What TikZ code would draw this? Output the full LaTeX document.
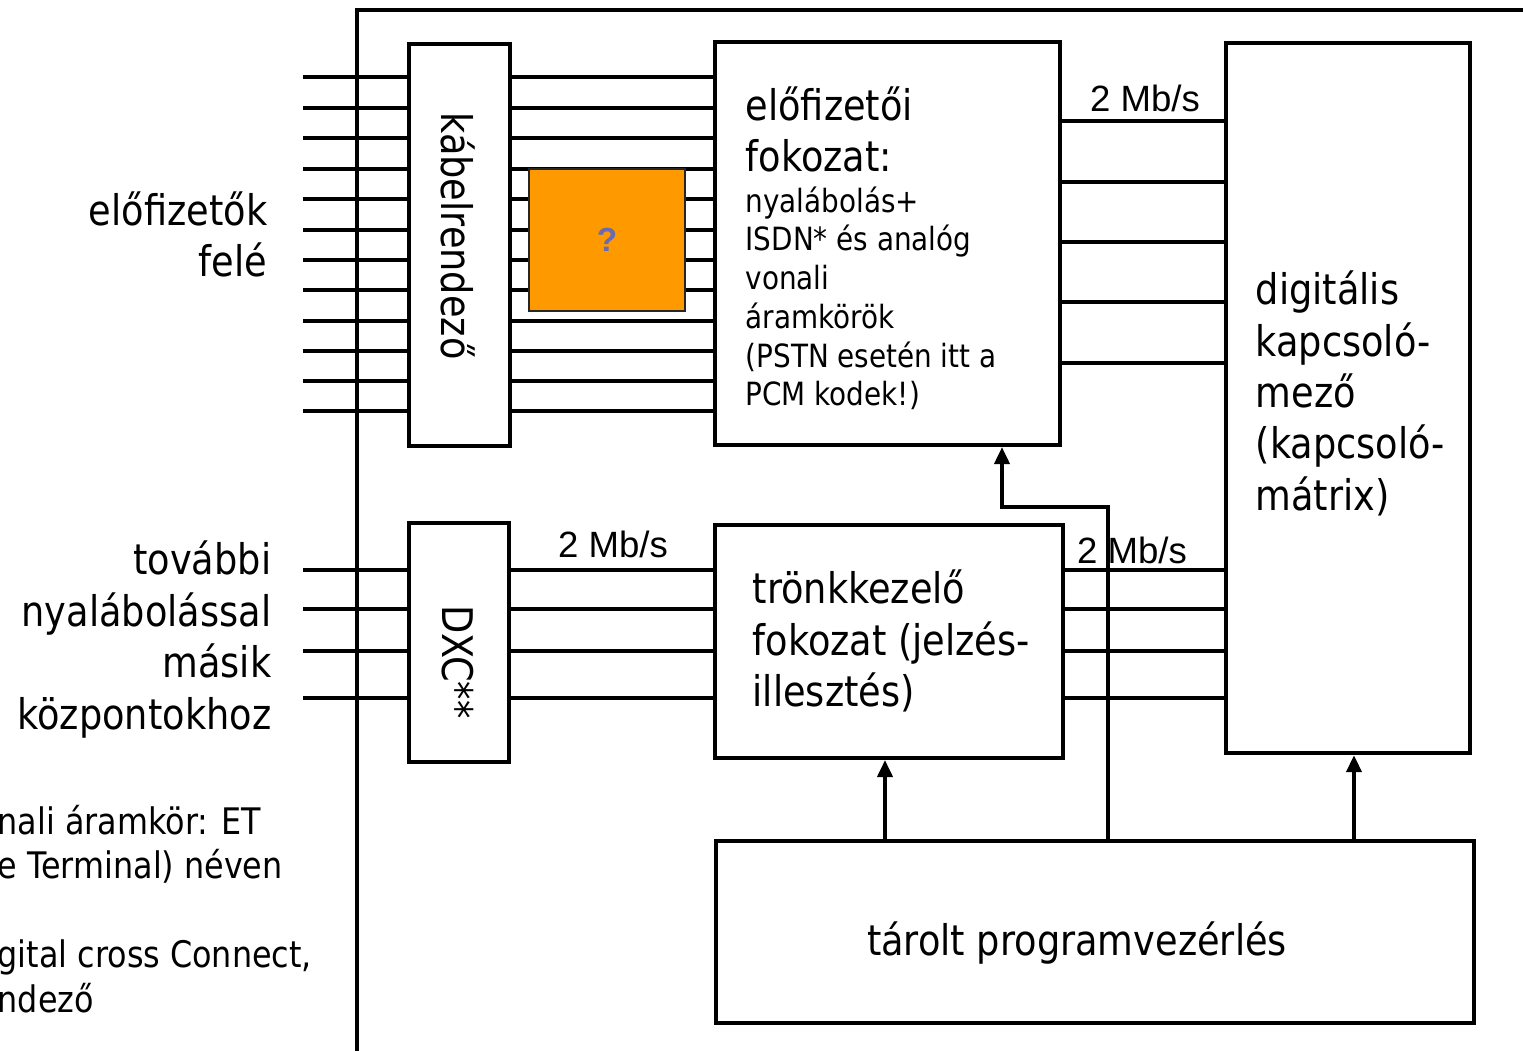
\documentclass[tikz,border=0pt]{standalone}
\usepackage{fontspec}
\setmainfont{DejaVu Sans}[FakeStretch=0.87]
\newfontfamily\arialfont{Liberation Sans}
\usepackage{tikz}
\usetikzlibrary{positioning,arrows.meta}
\definecolor{KozpOrange}{HTML}{FF9900}
\definecolor{KozpSlate}{HTML}{6A6AAE}

\begin{document}
\begin{tikzpicture}[x=0.01cm,y=-0.01cm,
    blokk/.style={draw,line width=1.1pt,inner sep=0pt},
    wire/.style={line width=1.1pt},
    arr/.style={line width=1.1pt,-{Triangle[length=0.17cm,width=0.15cm]}},
    nagy/.style={font=\fontsize{12}{14.6}\selectfont,inner sep=0pt},
    kicsi/.style={font=\fontsize{9.1}{11}\selectfont,inner sep=0pt},
    megj/.style={font=\fontsize{10.4}{12.6}\selectfont,inner sep=0pt},
    rate/.style={font=\arialfont\fontsize{10.4}{12}\selectfont,inner sep=0pt}]
    \useasboundingbox (0,0) rectangle (1523,1051);
    % keret
    \draw[wire] (1530,10) -- (357,10) -- (357,1060);
    % blokkok
    \node[blokk,minimum width=1.01cm,minimum height=4.02cm] (kab) at (459.5,245) {};
    \node[blokk,minimum width=3.45cm,minimum height=4.03cm] (elo) at (887.5,243.5) {};
    \node[blokk,minimum width=2.44cm,minimum height=7.10cm] (dig) at (1348,398) {};
    \node[blokk,minimum width=1.00cm,minimum height=2.39cm] (dxc) at (459,642.5) {};
    \node[blokk,minimum width=3.48cm,minimum height=2.33cm] (tronk) at (889,641.5) {};
    \node[blokk,minimum width=7.58cm,minimum height=1.82cm] (tar) at (1095,932) {};
    % vonalak
    \foreach \y in {77,108,138,169,199,230,260,290,321,351,381,411} {
      \draw[wire] (kab.west |- 0,\y) -- ++(-104,0);
      \draw[wire] (kab.east |- 0,\y) -- (elo.west |- 0,\y);
    }
    \foreach \y in {121,182,242,302,363}
      \draw[wire] (elo.east |- 0,\y) -- (dig.west |- 0,\y);
    \foreach \y in {570,609,651,698} {
      \draw[wire] (dxc.west |- 0,\y) -- ++(-104,0);
      \draw[wire] (dxc.east |- 0,\y) -- (tronk.west |- 0,\y);
      \draw[wire] (tronk.east |- 0,\y) -- (dig.west |- 0,\y);
    }
    \node[draw=black!85,line width=0.6pt,fill=KozpOrange,minimum width=1.56cm,minimum height=1.42cm,
      font=\arialfont\bfseries\fontsize{9.5}{10}\selectfont,text=KozpSlate] (kerdes) at (607,240) {?};
    % vezerles
    \coordinate (v1) at (tar.north -| 885,0);
    \coordinate (v2) at (tar.north -| 1354,0);
    \coordinate (v3) at (tar.north -| 1108,0);
    \draw[arr] (v1) -- (tronk.south -| v1);
    \draw[arr] (v2) -- (dig.south -| v2);
    \draw[arr] (v3) -- (1108,507) -- (1002,507) -- (elo.south -| 1002,0);
    % feliratok
    \node[nagy,rotate=-90] (kabtxt) at (458,236) {kábelrendező};
    \node[nagy,rotate=-90] (dxctxt) at (458,662) {DXC**};
    \node[nagy,anchor=north west,align=left] (elotxt) at (745,86) {előfizetői\\fokozat:};
    \node[kicsi,anchor=north west,align=left] (elokis) at (745,186)
      {nyalábolás+\\ISDN* és analóg\\vonali\\áramkörök\\(PSTN esetén itt a\\PCM kodek!)};
    \node[nagy,anchor=west,align=left] (digtxt) at (1255,393.5)
      {digitális\\kapcsoló-\\mező\\(kapcsoló-\\mátrix)};
    \node[nagy,anchor=west,align=left] (trtxt) at (752,641) {trönkkezelő\\fokozat (jelzés-\\illesztés)};
    \node[nagy] (tartxt) at (1077,943) {tárolt programvezérlés};
    \node[nagy,anchor=east,align=right] (eloffel) at (268,234.5) {előfizetők\\felé};
    \node[nagy,anchor=east,align=right] (tovabbi) at (272,639.5)
      {további\\nyalábolással\\másik\\központokhoz};
    \node[megj,anchor=west,align=left] (megj1) at (-3,844) {nali áramkör: ET\\e Terminal) néven};
    \node[megj,anchor=west,align=left] (megj2) at (-3,976.5) {gital cross Connect,\\ndező};
    \node[rate] (r1) at (1145,98) {2 Mb/s};
    \node[rate] (r2) at (613,544) {2 Mb/s};
    \node[rate] (r3) at (1132,550) {2 Mb/s};
\end{tikzpicture}
\end{document}
